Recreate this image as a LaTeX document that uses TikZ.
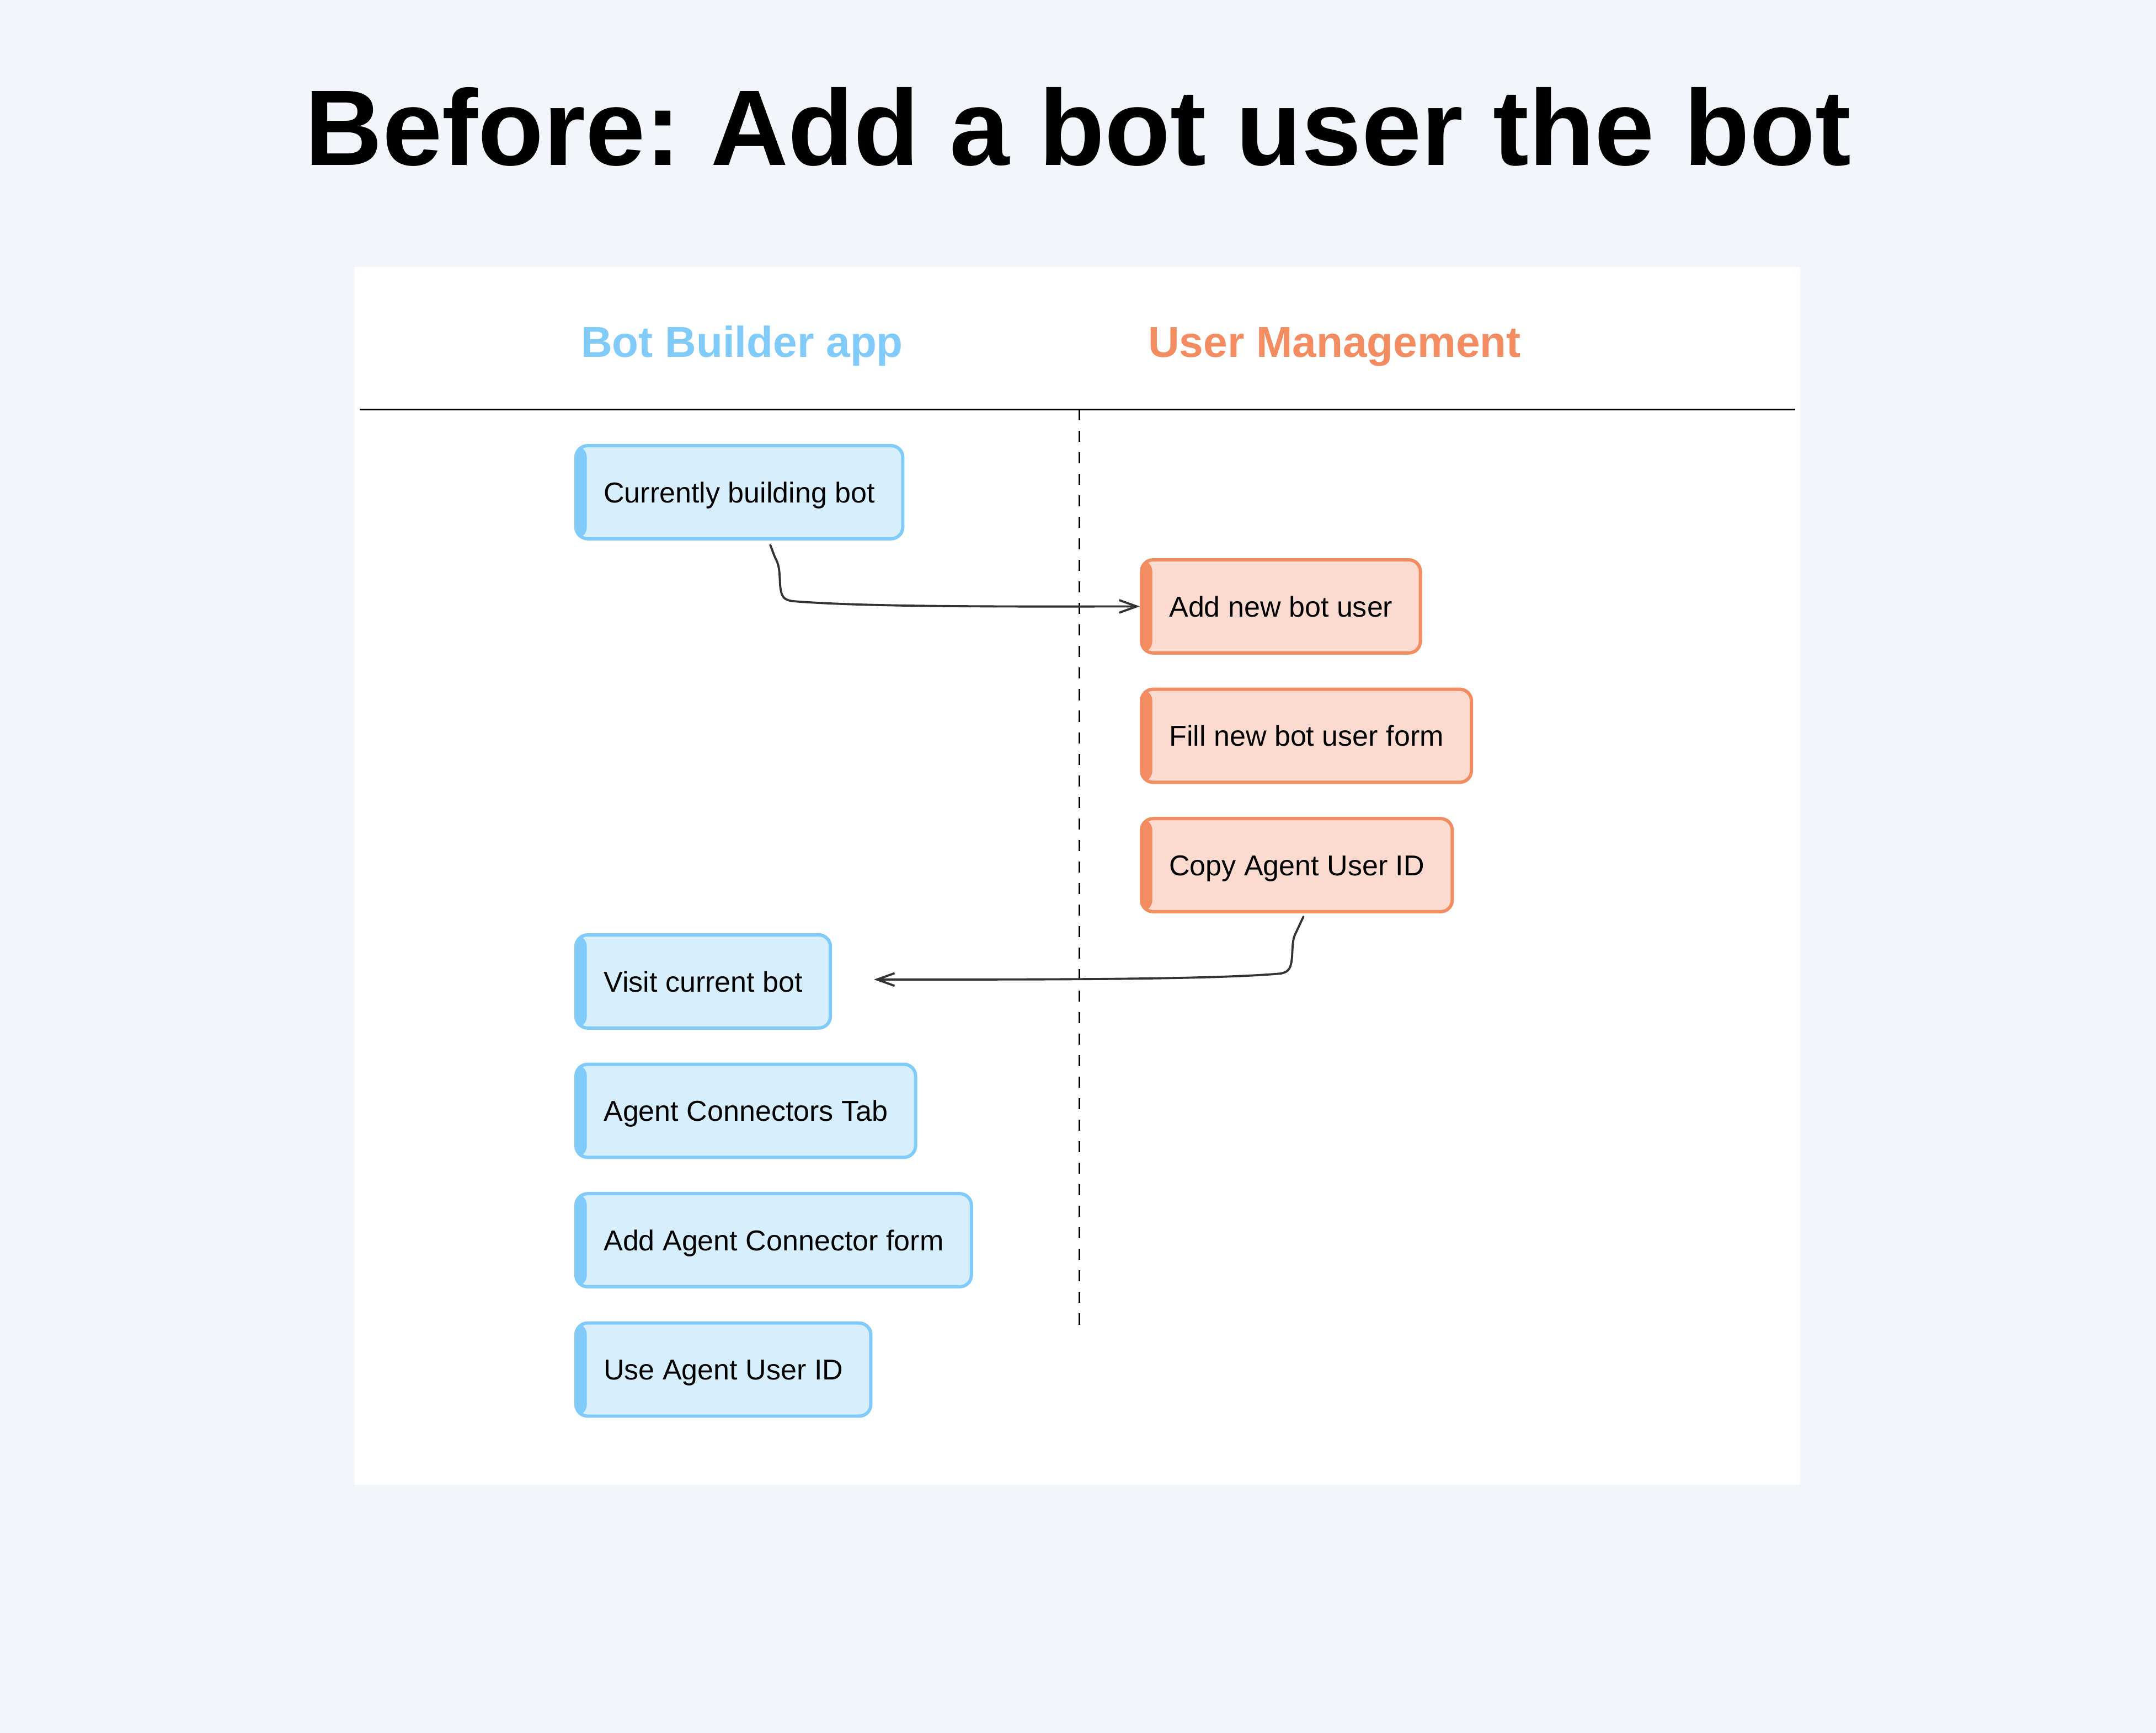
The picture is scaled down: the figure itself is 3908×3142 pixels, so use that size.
\documentclass[tikz,border=0pt]{standalone}
\usepackage{fontspec}
\setmainfont{Liberation Sans}
\frenchspacing
\usetikzlibrary{positioning,arrows.meta}
\definecolor{pagebg}{HTML}{F2F5FA}
\definecolor{botline}{HTML}{80CBFA}
\definecolor{botfill}{HTML}{D7EEFD}
\definecolor{umline}{HTML}{F48C62}
\definecolor{umfill}{HTML}{FBDBD0}
\definecolor{flowgray}{HTML}{333333}
\tikzset{
  stepbox/.style={draw, line width=1.7pt, rounded corners=6pt, minimum height=48pt,
    inner xsep=14.3pt, text height=10.7pt, text depth=0pt, font=\fontsize{14.8pt}{18pt}\selectfont},
  botbox/.style={stepbox, draw=botline, fill=botfill,
    path picture={\fill[botline] (path picture bounding box.north west) rectangle ([xshift=5.6pt]path picture bounding box.south west);}},
  umbox/.style={stepbox, draw=umline, fill=umfill,
    path picture={\fill[umline] (path picture bounding box.north west) rectangle ([xshift=5.6pt]path picture bounding box.south west);}},
  lanehead/.style={anchor=base, font=\fontsize{22.3pt}{26pt}\selectfont\bfseries},
  flow/.style={draw=flowgray, line width=1.1pt, line cap=round, -{Straight Barb[length=9pt,width=6.5pt]}}
}
\begin{document}
\begin{tikzpicture}[x=0.01cm, y=-0.01cm]
	\useasboundingbox (0,0) rectangle (3908,3142);
	\fill[pagebg] (0,0) rectangle (3908,3142);
	\fill[white] (643,484) rectangle (3263,2692);
	\node[anchor=base, font=\fontsize{55.4pt}{60pt}\selectfont\bfseries] (title) at (1954,299) {Before: Add a bot user the bot};
	\node[lanehead, text=botline] (botlane) at (1345,647) {Bot Builder app};
	\node[lanehead, text=umline] (umlane) at (2419,647) {User Management};
	\draw[line width=0.85pt] (652,742) -- (3254,742);
	\draw[line width=0.85pt, dash pattern=on 5.7pt off 5.4pt] (1956,742) -- (1956,2410);
	% bot builder lane
	\node[botbox, anchor=north west] (cur) at (1041,805) {Currently building bot};
	\node[botbox, anchor=north west] (vis) at (1041,1692) {Visit current bot};
	\node[botbox, below=17pt of vis.south west, anchor=north west] (tab) {Agent Connectors Tab};
	\node[botbox, below=17pt of tab.south west, anchor=north west] (connform) {Add Agent Connector form};
	\node[botbox, below=17pt of connform.south west, anchor=north west] (useid) {Use Agent User ID};
	% user management lane
	\node[umbox, anchor=north west] (adduser) at (2066,1012) {Add new bot user};
	\node[umbox, below=17pt of adduser.south west, anchor=north west] (userform) {Fill new bot user form};
	\node[umbox, below=17pt of userform.south west, anchor=north west] (copyid) {Copy Agent User ID};
	\coordinate (curout) at ([xshift=15.9pt,yshift=-2.3pt]cur.south);
	\coordinate (copyout) at ([xshift=3.4pt,yshift=-1.7pt]copyid.south);
	\coordinate (visin) at ([xshift=21.6pt,yshift=1pt]vis.east);
	\draw[flow] (curout) .. controls (1401,1000) and (1402,1005) .. (1407,1015)
		.. controls (1413,1027) and (1413,1040) .. (1414,1060)
		.. controls (1416,1082) and (1420,1088) .. (1438,1090)
		.. controls (1560,1100) and (1800,1100) .. (adduser.west);
	\draw[flow] (copyout) .. controls (2354,1680) and (2352,1685) .. (2348,1693)
		.. controls (2343,1703) and (2343,1715) .. (2342,1735)
		.. controls (2340,1756) and (2336,1762) .. (2322,1765)
		.. controls (2200,1776) and (1900,1776) .. (visin);
\end{tikzpicture}
\end{document}
